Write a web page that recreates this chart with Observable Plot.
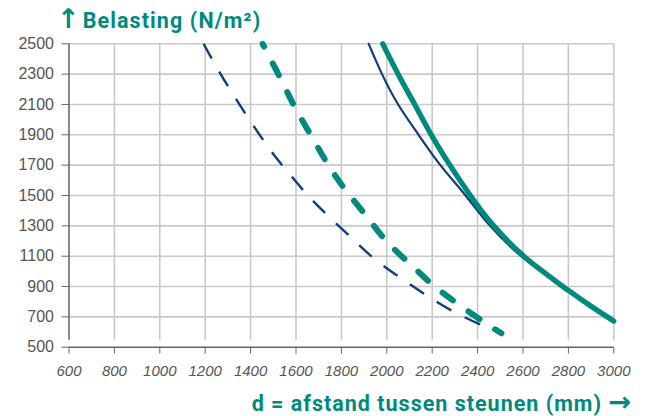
<!DOCTYPE html>
<html>
<head>
<meta charset="utf-8">
<script src="https://cdn.jsdelivr.net/npm/d3@7"></script>
<script src="https://cdn.jsdelivr.net/npm/@observablehq/plot@0.6"></script>
<style>
  html, body { margin: 0; padding: 0; background: #fff; }
  #chart { width: 645px; height: 416px; position: relative; }
</style>
</head>
<body>
<div id="chart"></div>
<script>
// ---- data ----
const xTicks = [600, 800, 1000, 1200, 1400, 1600, 1800, 2000, 2200, 2400, 2600, 2800, 3000];
const yTicks = [500, 700, 900, 1100, 1300, 1500, 1700, 1900, 2100, 2300, 2500];

const tealSolidD = [1982, 2050, 2123, 2196, 2278, 2368, 2471, 2600, 2700, 2800, 2900, 3000];
const tealSolidL = [2500, 2300, 2100, 1900, 1700, 1500, 1300, 1104, 985, 874, 770, 672];

const navySolidD = [1920, 1979, 2050, 2140, 2236, 2347, 2455, 2592, 2700, 2800, 2900, 3000];
const navySolidL = [2500, 2300, 2100, 1900, 1700, 1500, 1300, 1100, 983, 872, 768, 670];

const tealDashD = [1453, 1536, 1599, 1669, 1739, 1820, 1908, 1996, 2094, 2201, 2312, 2429, 2505];
const tealDashL = [2500, 2258, 2071, 1889, 1709, 1533, 1368, 1203, 1060, 913, 786, 665, 592];

const navyDashD = [1193, 1303, 1457, 1543, 1633, 1732, 1834, 1937, 2052, 2165, 2285, 2411, 2505];
const navyDashL = [2500, 2214, 1862, 1693, 1533, 1379, 1236, 1093, 966, 852, 742, 650, 590];

const titleArrow = "\u2191";
const titleText = "Belasting (N/m\u00B2)";
const xLabelText = "d = afstand tussen steunen (mm)";
const xLabelArrow = "\u2192";

const TEAL = "#008a7d";
const NAVY = "#123c7a";

const toRows = (ds, ls) => ds.map((d, i) => ({d, l: ls[i]}));
const tealSolid = toRows(tealSolidD, tealSolidL);
const navySolid = toRows(navySolidD, navySolidL);
const tealDash = toRows(tealDashD, tealDashL);
const navyDash = toRows(navyDashD, navyDashL);

const svg = Plot.plot({
  width: 645,
  height: 416,
  marginLeft: 68.5,
  marginRight: 31.7,
  marginTop: 43.3,
  marginBottom: 69.3,
  style: {fontFamily: "'Liberation Sans', Arial, sans-serif", background: "#fff", overflow: "visible"},
  x: {domain: [600, 3000]},
  y: {domain: [500, 2500]},
  marks: [
    Plot.ruleX(xTicks.slice(1), {y1: 500, y2: 2500, insetTop: -7, stroke: "#c9c9c9", strokeWidth: 1.6}),
    Plot.ruleY(yTicks.slice(1), {x1: 600, x2: 3000, stroke: "#c9c9c9", strokeWidth: 1.6}),
    Plot.ruleX([600], {y1: 500, y2: 2500, insetTop: -7, stroke: "#555", strokeWidth: 1.4}),
    Plot.ruleY([500], {x1: 600, x2: 3000, stroke: "#666", strokeWidth: 1.4}),
    Plot.axisX({ticks: xTicks, tickFormat: d => String(d), tickSize: 7, tickPadding: 11, fontSize: 15, fontStyle: "italic", fill: "#555", stroke: "#666", label: null}),
    Plot.axisY({ticks: yTicks, tickFormat: d => String(d), tickSize: 7, tickPadding: 8, fontSize: 16, fill: "#555", stroke: "#666", label: null}),
    Plot.line(navyDash, {x: "d", y: "l", stroke: NAVY, strokeWidth: 2.4, strokeDasharray: "17,15", strokeLinecap: "butt", curve: "natural"}),
    Plot.line(tealDash, {x: "d", y: "l", stroke: TEAL, strokeWidth: 6, strokeDasharray: "13,19", strokeDashoffset: 10, strokeLinecap: "round", curve: "natural"}),
    Plot.line(navySolid, {x: "d", y: "l", stroke: NAVY, strokeWidth: 2.2, curve: "natural"}),
    Plot.line(tealSolid, {x: "d", y: "l", stroke: TEAL, strokeWidth: 5.3, curve: "natural"})
  ]
});

const s = d3.select(svg);
const t1 = s.append("text")
  .attr("x", 57).attr("y", 28)
  .attr("text-anchor", "start")
  .attr("fill", TEAL)
  .attr("font-family", "Roboto, 'Open Sans', sans-serif")
  .attr("font-weight", "bold")
  .attr("font-size", 21.5)
  .attr("letter-spacing", 1.1);
t1.append("tspan").attr("font-family", "'DejaVu Sans', sans-serif").attr("font-size", 27).attr("letter-spacing", 0).text(titleArrow);
t1.append("tspan").attr("dx", 3).text(titleText);

const t2 = s.append("text")
  .attr("x", 631).attr("y", 411)
  .attr("text-anchor", "end")
  .attr("fill", TEAL)
  .attr("font-family", "Roboto, 'Open Sans', sans-serif")
  .attr("font-weight", "bold")
  .attr("font-size", 21.5)
  .attr("letter-spacing", 1);
t2.append("tspan").text(xLabelText + " ");
t2.append("tspan").attr("font-family", "'DejaVu Sans', sans-serif").attr("font-size", 27).attr("letter-spacing", 0).text(xLabelArrow);

document.getElementById("chart").appendChild(svg);
</script>
</body>
</html>
